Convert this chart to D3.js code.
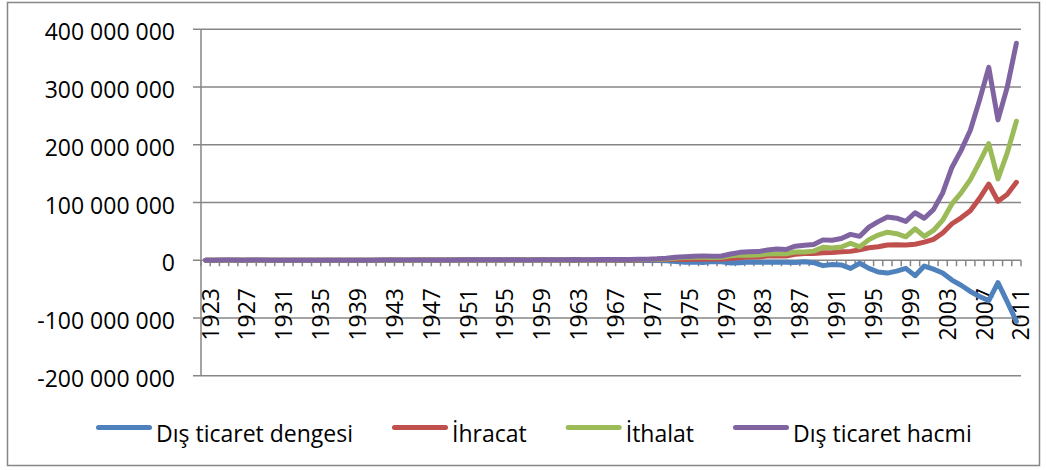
<!DOCTYPE html>
<html>
<head>
<meta charset="utf-8">
<script src="https://cdn.jsdelivr.net/npm/d3@7"></script>
<style>
body { margin: 0; background: #fff; }
text { font-family: "Open Sans", sans-serif; fill: #000; }
</style>
</head>
<body>
<svg id="chart" width="1047" height="470"></svg>
<script>
/*****************************************************************************
 *  Data (thousand USD)
 */
var YEARS = [
    1923, 1924, 1925, 1926, 1927, 1928, 1929, 1930, 1931, 1932,
    1933, 1934, 1935, 1936, 1937, 1938, 1939, 1940, 1941, 1942,
    1943, 1944, 1945, 1946, 1947, 1948, 1949, 1950, 1951, 1952,
    1953, 1954, 1955, 1956, 1957, 1958, 1959, 1960, 1961, 1962,
    1963, 1964, 1965, 1966, 1967, 1968, 1969, 1970, 1971, 1972,
    1973, 1974, 1975, 1976, 1977, 1978, 1979, 1980, 1981, 1982,
    1983, 1984, 1985, 1986, 1987, 1988, 1989, 1990, 1991, 1992,
    1993, 1994, 1995, 1996, 1997, 1998, 1999, 2000, 2001, 2002,
    2003, 2004, 2005, 2006, 2007, 2008, 2009, 2010, 2011
];

var BALANCE = [
    -36082, -18027, -26253, -21367, -21832, -20444, -48731, 1840, -2630, 6058,
    8963, 8065, 3149, 5146, 10071, 10601, 16445, 30958, 35195, 12228,
    41912, 51716, 71295, 95669, -611, -78247, -42392, -22230, -88004, -193006,
    -136503, -143435, -184291, -102350, -51905, -67827, -116226, -147455, -162871, -238272,
    -319529, -126458, -108215, -227761, -162335, -267240, -264402, -359128, -494238, -677529,
    -769133, -2245319, -3337483, -3168442, -4043252, -2310862, -2808237, -4999242, -4230440, -3096642,
    -3507168, -3623319, -3385365, -3648046, -3967782, -2673374, -4167451, -9342838, -7453552, -8156426,
    -14083303, -5164147, -14071970, -20402177, -22297649, -18947440, -14084047, -26727915, -10064867, -15494708,
    -22086856, -34372613, -43297743, -54041498, -62790965, -69936378, -38785808, -71661113, -105934807
];

var EXPORTS = [
    50790, 82435, 102700, 96437, 80749, 88278, 74827, 71380, 60226, 48000,
    45905, 51219, 45668, 55473, 65007, 80838, 79821, 80904, 90544, 126116,
    196722, 177952, 168264, 214559, 223320, 196806, 247825, 263424, 314082, 362914,
    396030, 334924, 313346, 304990, 345220, 247271, 353748, 320731, 346744, 381169,
    368087, 410771, 463738, 490508, 522334, 496419, 536834, 588476, 676602, 885021,
    1317083, 1532182, 1401075, 1960214, 1753026, 2288163, 2261195, 2910122, 4702934, 5746023,
    5727834, 7133604, 7958010, 7456725, 10190049, 11662024, 11624692, 12959288, 13593462, 14714629,
    15345067, 18105872, 21637041, 23224465, 26261072, 26973952, 26587225, 27774906, 31334216, 36059089,
    47252836, 63167153, 73476408, 85534676, 107271750, 132027196, 102142613, 113883219, 134906869
];

var IMPORTS = [
    86872, 100462, 128953, 117804, 102581, 108722, 123558, 69540, 62856, 41942,
    36942, 43154, 42519, 50327, 54936, 70237, 63376, 49946, 55349, 113888,
    154810, 126236, 96969, 118890, 223931, 275053, 290217, 285654, 402086, 555920,
    532533, 478359, 497637, 407340, 397125, 315098, 469974, 468186, 509615, 619441,
    687616, 537229, 571953, 718269, 684669, 763659, 801236, 947604, 1170840, 1562550,
    2086216, 3777501, 4738558, 5128656, 5796278, 4599025, 5069432, 7909364, 8933374, 8842665,
    9235002, 10756923, 11343375, 11104771, 14157831, 14335398, 15792143, 22302126, 21047014, 22871055,
    29428370, 23270019, 35709011, 43626642, 48558721, 45921392, 40671272, 54502821, 41399083, 51553797,
    69339692, 97539766, 116774151, 139576174, 170062715, 201963574, 140928421, 185544332, 240841676
];

var VOLUME = [
    137662, 182897, 231653, 214241, 183330, 197000, 198385, 140920, 123082, 89942,
    82847, 94373, 88187, 105800, 119943, 151075, 143197, 130850, 145893, 240004,
    351532, 304188, 265233, 333449, 447251, 471859, 538042, 549078, 716168, 918834,
    928563, 813283, 810983, 712330, 742345, 562369, 823722, 788917, 856359, 1000610,
    1055703, 948000, 1035691, 1208777, 1207003, 1260078, 1338070, 1536080, 1847442, 2447571,
    3403299, 5309683, 6139633, 7088870, 7549304, 6887188, 7330627, 10819486, 13636308, 14588688,
    14962836, 17890527, 19301385, 18561496, 24347880, 25997422, 27416835, 35261414, 34640476, 37585684,
    44773437, 41375891, 57346052, 66851107, 74819793, 72895344, 67258497, 82277727, 72733299, 87612886,
    116592528, 160706919, 190250559, 225110850, 277334465, 333990770, 243071034, 299427551, 375748545
];

var SERIES_NAMES = ["Dış ticaret dengesi", "İhracat", "İthalat", "Dış ticaret hacmi"];
var SERIES_COLORS = ["#4F81BD", "#C0504D", "#9BBB59", "#8064A2"];

var Y_TICKS = [-200000000, -100000000, 0, 100000000, 200000000, 300000000, 400000000];
var X_TICK_LABELS = [
    1923, 1927, 1931, 1935, 1939, 1943, 1947, 1951, 1955, 1959, 1963, 1967,
    1971, 1975, 1979, 1983, 1987, 1991, 1995, 1999, 2003, 2007, 2011
];

/*****************************************************************************
 *  Layout
 */
var PLOT_LEFT = 201;
var PLOT_RIGHT = 1021;
var PLOT_TOP = 29.3;
var PLOT_BOTTOM = 375.7;
var FONT_SIZE = 23;
var GRID_COLOR = "#868686";
var LINE_WIDTH = 5;
var LEGEND_LEFT = 96;
var LEGEND_Y = 427.5;
var LEGEND_SWATCH = 56;
var LEGEND_GAP = 39;

var svg = d3.select("#chart");

var xScale = d3.scaleBand()
    .domain(YEARS)
    .range([PLOT_LEFT, PLOT_RIGHT]);
var bw = xScale.bandwidth();

var yScale = d3.scaleLinear()
    .domain([-200000000, 400000000])
    .range([PLOT_BOTTOM, PLOT_TOP]);

var fmt = d3.formatLocale({
    decimal: ",", thousands: " ", grouping: [3], currency: ["", ""], minus: "-"
}).format(",");

// Outer chart border
svg.append("rect")
    .attr("x", 7.5)
    .attr("y", 2.5)
    .attr("width", 1032)
    .attr("height", 463)
    .attr("fill", "none")
    .attr("stroke", GRID_COLOR)
    .attr("stroke-width", 1.5);

// Render gridlines + y labels
svg.selectAll(".gridline")
    .data(Y_TICKS)
    .enter()
    .append("line")
    .attr("class", "gridline")
    .attr("x1", PLOT_LEFT - 8)
    .attr("x2", PLOT_RIGHT)
    .attr("y1", d => yScale(d))
    .attr("y2", d => yScale(d))
    .attr("stroke", GRID_COLOR)
    .attr("stroke-width", 1.5);

svg.selectAll(".y-label")
    .data(Y_TICKS)
    .enter()
    .append("text")
    .attr("class", "y-label")
    .attr("text-anchor", "end")
    .attr("x", 175)
    .attr("y", d => yScale(d) + 11)
    .style("font-size", FONT_SIZE + "px")
    .text(d => fmt(d));

// Vertical axis line
svg.append("line")
    .attr("x1", PLOT_LEFT)
    .attr("x2", PLOT_LEFT)
    .attr("y1", PLOT_TOP)
    .attr("y2", PLOT_BOTTOM)
    .attr("stroke", GRID_COLOR)
    .attr("stroke-width", 1.5);

// Category tick marks on the zero line
var tickEdges = YEARS.map(d => xScale(d)).concat([PLOT_RIGHT]);
svg.selectAll(".x-tick")
    .data(tickEdges)
    .enter()
    .append("line")
    .attr("class", "x-tick")
    .attr("x1", d => d)
    .attr("x2", d => d)
    .attr("y1", yScale(0))
    .attr("y2", yScale(0) + 6)
    .attr("stroke", GRID_COLOR)
    .attr("stroke-width", 1.5);

// Rotated year labels
svg.selectAll(".x-label")
    .data(X_TICK_LABELS)
    .enter()
    .append("text")
    .attr("class", "x-label")
    .attr("text-anchor", "end")
    .attr("transform", d => "translate(" + (xScale(d) + bw / 2 + 13) + "," + 288 + ") rotate(-90)")
    .style("font-size", FONT_SIZE + "px")
    .text(d => d);

// Render series lines
var allSeries = [BALANCE, EXPORTS, IMPORTS, VOLUME];
var lineGenerator = d3.line()
    .x((d, i) => xScale(YEARS[i]) + bw / 2)
    .y(d => yScale(d));

svg.selectAll(".series")
    .data(allSeries)
    .enter()
    .append("path")
    .attr("class", "series")
    .attr("d", d => lineGenerator(d))
    .attr("fill", "none")
    .attr("stroke", (d, i) => SERIES_COLORS[i])
    .attr("stroke-width", LINE_WIDTH)
    .attr("stroke-linejoin", "round")
    .attr("stroke-linecap", "round");

// Legend
var lx = LEGEND_LEFT;
for (s = 0; s < SERIES_NAMES.length; s++) {
    svg.append("line")
        .attr("x1", lx + 2.5)
        .attr("x2", lx + LEGEND_SWATCH - 2.5)
        .attr("y1", LEGEND_Y)
        .attr("y2", LEGEND_Y)
        .attr("stroke", SERIES_COLORS[s])
        .attr("stroke-width", 5)
        .attr("stroke-linecap", "round");
    var t = svg.append("text")
        .attr("x", lx + LEGEND_SWATCH + 4)
        .attr("y", LEGEND_Y + 14)
        .style("font-size", FONT_SIZE + "px")
        .text(SERIES_NAMES[s]);
    lx += LEGEND_SWATCH + 4 + t.node().getComputedTextLength() + LEGEND_GAP;
}
</script>
</body>
</html>
